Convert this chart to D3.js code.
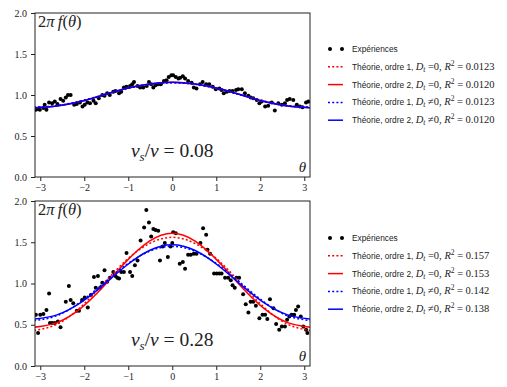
<!DOCTYPE html>
<html>
<head>
<meta charset="utf-8">
<script src="https://cdn.jsdelivr.net/npm/d3@7"></script>
<style>
  body { margin: 0; background: #fff; }
  .tick text { font-family: "Liberation Serif", serif; font-size: 10px; fill: #222; }
  .tick line { stroke: #222; }
</style>
</head>
<body>
<script>
// measured points (theta, 2*pi*f)
var topTheta = [-3.10,-3.07,-3.01,-2.93,-2.90,-2.86,-2.80,-2.73,-2.67,-2.61,-2.54,-2.48,-2.42,-2.37,-2.31,-2.23,-2.17,-2.10,-2.04,-1.99,-1.93,-1.87,-1.79,-1.74,-1.67,-1.59,-1.54,-1.48,-1.42,-1.34,-1.29,-1.21,-1.16,-1.10,-1.04,-0.96,-0.91,-0.87,-0.79,-0.73,-0.66,-0.58,-0.53,-0.48,-0.43,-0.38,-0.32,-0.26,-0.19,-0.13,-0.08,-0.02,
  0.02,0.08,0.14,0.18,0.24,0.29,0.36,0.44,0.49,0.55,0.63,0.69,0.77,0.84,0.92,0.99,1.07,1.12,1.17,1.24,1.30,1.37,1.45,1.50,1.58,1.65,1.73,1.78,1.84,1.92,1.98,2.03,2.11,2.18,2.26,2.33,2.41,2.49,2.56,2.61,2.67,2.75,2.83,2.90,2.96,3.04,3.09];
var topValues = [0.82,0.83,0.82,0.84,0.88,0.82,0.91,0.90,0.92,0.89,0.95,0.93,0.97,1.00,1.00,0.88,0.89,0.91,0.86,0.88,0.91,0.90,0.93,0.90,0.96,1.00,0.99,1.02,1.00,1.04,1.05,1.02,1.04,1.09,1.10,1.11,1.13,1.16,1.11,1.09,1.09,1.11,1.16,1.13,1.09,1.12,1.13,1.13,1.17,1.18,1.22,1.24,
  1.24,1.22,1.20,1.21,1.23,1.20,1.17,1.15,1.09,1.08,1.13,1.16,1.13,1.13,1.10,1.07,1.08,1.06,1.02,1.04,1.05,1.05,1.06,1.07,1.07,1.02,0.99,0.97,0.96,0.94,0.90,0.92,0.86,0.87,0.91,0.81,0.90,0.88,0.90,0.94,0.95,0.94,0.88,0.86,0.85,0.91,0.92];

var botTheta = [-3.10,-3.05,-3.00,-2.93,-2.86,-2.80,-2.78,-2.73,-2.67,-2.60,-2.54,-2.42,-2.35,-2.31,-2.25,-2.17,-2.12,-2.05,-1.99,-1.92,-1.85,-1.78,-1.74,-1.69,-1.64,-1.59,-1.54,-1.48,-1.42,-1.34,-1.29,-1.25,-1.21,-1.16,-1.10,-1.04,-0.96,-0.91,-0.85,-0.79,-0.72,-0.64,-0.59,-0.53,-0.48,-0.43,-0.38,-0.32,-0.28,-0.22,-0.17,-0.10,-0.04,0.00,
  0.02,0.08,0.17,0.24,0.29,0.36,0.42,0.49,0.55,0.64,0.70,0.77,0.80,0.86,0.95,1.01,1.07,1.12,1.20,1.27,1.33,1.37,1.42,1.46,1.52,1.61,1.67,1.73,1.78,1.84,1.90,1.98,2.05,2.11,2.16,2.22,2.30,2.36,2.43,2.49,2.56,2.61,2.66,2.71,2.77,2.81,2.86,2.92,2.98,3.04,3.07];
var botValues = [0.62,0.40,0.62,0.63,0.68,0.88,0.52,0.52,0.52,0.54,0.47,0.78,0.97,0.80,0.76,0.67,0.67,0.80,0.83,0.71,0.86,1.08,0.95,1.09,0.95,1.01,1.16,1.02,1.07,1.14,1.09,1.07,1.06,1.14,1.14,1.37,1.14,1.09,1.22,1.28,1.52,1.68,1.89,1.74,1.57,1.66,1.65,1.64,1.28,1.45,1.49,1.32,1.45,1.49,
  1.62,1.61,1.24,1.26,1.18,1.35,1.35,1.36,1.36,1.49,1.67,1.59,1.41,1.36,1.12,1.12,1.12,1.12,1.07,1.07,1.04,0.98,0.95,1.07,1.07,0.87,0.75,0.65,0.78,0.78,0.73,0.58,0.62,0.62,0.57,0.81,0.70,0.51,0.44,0.48,0.48,0.56,0.60,0.62,0.62,0.68,0.72,0.60,0.48,0.44,0.40];

// theory curves sampled on a theta grid
var curveTheta = [-3.14,-2.62,-2.09,-1.57,-1.05,-0.52,0,0.52,1.05,1.57,2.09,2.62,3.14];
var topRed1  = [0.85,0.87,0.925,1.0,1.075,1.13,1.15,1.13,1.075,1.0,0.925,0.87,0.85];
var topRed2  = [0.845,0.866,0.92,1.0,1.08,1.134,1.155,1.134,1.08,1.0,0.92,0.866,0.845];
var topBlue1 = [0.85,0.87,0.925,1.0,1.075,1.13,1.15,1.13,1.075,1.0,0.925,0.87,0.85];
var topBlue2 = [0.845,0.866,0.92,1.0,1.08,1.134,1.155,1.134,1.08,1.0,0.92,0.866,0.845];
var botRed1  = [0.43,0.506,0.71,0.995,1.28,1.484,1.56,1.484,1.28,0.995,0.71,0.506,0.43];
var botRed2  = [0.47,0.526,0.695,0.96,1.265,1.514,1.61,1.514,1.265,0.96,0.695,0.526,0.47];
var botBlue1 = [0.55,0.61,0.775,1.0,1.225,1.39,1.45,1.39,1.225,1.0,0.775,0.61,0.55];
var botBlue2 = [0.57,0.62,0.765,0.98,1.215,1.40,1.47,1.40,1.215,0.98,0.765,0.62,0.57];

var xTicks = [-3,-2,-1,0,1,2,3];
var yTicks = [0,0.5,1,1.5,2];
var topR2 = ["0.0123","0.0120","0.0123","0.0120"];
var botR2 = ["0.157","0.153","0.142","0.138"];
var ratioLabels = ["0.08","0.28"];

var width = 507, height = 387;
var left = 35, right = 310;
var serif = "Liberation Serif, serif";
var sans = "Liberation Sans, Arial, sans-serif";

var svg = d3.select("body").append("svg")
    .attr("width", width)
    .attr("height", height);

var x = d3.scaleLinear().domain([-3.12, 3.13]).range([left, right]);

var panels = [
  {top: 13, bottom: 177, theta: topTheta, vals: topValues,
   curves: [topRed1, topRed2, topBlue1, topBlue2], r2: topR2, ratio: ratioLabels[0], legendY: 49},
  {top: 201, bottom: 366, theta: botTheta, vals: botValues,
   curves: [botRed1, botRed2, botBlue1, botBlue2], r2: botR2, ratio: ratioLabels[1], legendY: 238}
];

var styles = [
  {color: "#f00", dash: "2,2.2"},
  {color: "#f00", dash: null},
  {color: "#00f", dash: "2,2.2"},
  {color: "#00f", dash: null}
];

panels.forEach(function(p, pi) {
  var y = d3.scaleLinear().domain([0, 2]).range([p.bottom, p.top]);
  var g = svg.append("g");

  g.append("clipPath").attr("id", "clip" + pi)
    .append("rect")
    .attr("x", left).attr("y", p.top)
    .attr("width", right - left).attr("height", p.bottom - p.top);

  g.append("g")
    .attr("transform", "translate(0," + p.bottom + ")")
    .call(d3.axisBottom(x).tickValues(xTicks).tickSize(4).tickPadding(3)
      .tickFormat(function(d) { return d < 0 ? "\u2212" + Math.abs(d) : d; }))
    .call(function(a) { a.select(".domain").remove(); });

  g.append("g")
    .attr("transform", "translate(" + left + ",0)")
    .call(d3.axisLeft(y).tickValues(yTicks).tickSize(4).tickPadding(4).tickFormat(d3.format(".1f")))
    .call(function(a) { a.select(".domain").remove(); });

  var plot = g.append("g").attr("clip-path", "url(#clip" + pi + ")");

  var line = d3.line()
    .x(function(d) { return x(d[0]); })
    .y(function(d) { return y(d[1]); })
    .curve(d3.curveNatural);

  plot.selectAll("circle")
    .data(d3.zip(p.theta, p.vals))
    .enter().append("circle")
    .attr("cx", function(d) { return x(d[0]); })
    .attr("cy", function(d) { return y(d[1]); })
    .attr("r", 2)
    .attr("fill", "#000");

  p.curves.forEach(function(c, i) {
    plot.append("path")
      .datum(d3.zip(curveTheta, c))
      .attr("d", line)
      .attr("fill", "none")
      .attr("stroke", styles[i].color)
      .attr("stroke-width", 1.5)
      .attr("stroke-dasharray", styles[i].dash);
  });

  g.append("rect")
    .attr("x", left).attr("y", p.top)
    .attr("width", right - left).attr("height", p.bottom - p.top)
    .attr("fill", "none").attr("stroke", "#222").attr("stroke-width", 1);

  // labels inside the axes
  var lab = g.append("text")
    .attr("x", left + 3).attr("y", p.top + 14)
    .attr("font-family", serif).attr("font-size", 16.5).attr("fill", "#222");
  lab.append("tspan").text("2");
  lab.append("tspan").attr("font-style", "italic").text("\u03c0\u2009f");
  lab.append("tspan").text("(");
  lab.append("tspan").attr("font-style", "italic").text("\u03b8");
  lab.append("tspan").text(")");

  var rt = g.append("text")
    .attr("x", x(0)).attr("y", p.bottom - 20)
    .attr("text-anchor", "middle")
    .attr("font-family", serif).attr("font-size", 19.5).attr("fill", "#222");
  rt.append("tspan").attr("font-style", "italic").text("v");
  rt.append("tspan").attr("font-style", "italic").attr("font-size", 13).attr("dy", 4).text("s");
  rt.append("tspan").attr("dy", -4).text("/");
  rt.append("tspan").attr("font-style", "italic").text("v");
  rt.append("tspan").text(" = " + p.ratio);

  g.append("text")
    .attr("x", right - 4).attr("y", p.bottom - 5)
    .attr("text-anchor", "end")
    .attr("font-family", serif).attr("font-style", "italic")
    .attr("font-size", 15).attr("fill", "#222")
    .text("\u03b8");

  // legend
  var lg = svg.append("g").attr("transform", "translate(328," + p.legendY + ")");
  var step = 17.8;
  lg.append("circle").attr("cx", 2).attr("cy", 0).attr("r", 2);
  lg.append("circle").attr("cx", 14).attr("cy", 0).attr("r", 2);
  lg.append("text").attr("x", 24).attr("y", 3)
    .attr("font-family", sans).attr("font-size", 8.3).attr("fill", "#222")
    .text("Exp\u00e9riences");

  styles.forEach(function(s, i) {
    var yy = (i + 1) * step;
    lg.append("line")
      .attr("x1", 0).attr("x2", 15).attr("y1", yy).attr("y2", yy)
      .attr("stroke", s.color).attr("stroke-width", 1.5)
      .attr("stroke-dasharray", s.dash);
    var t = lg.append("text").attr("x", 24).attr("y", yy + 3)
      .attr("font-size", 8.3).attr("fill", "#222");
    t.append("tspan").attr("font-family", sans)
      .text("Th\u00e9orie, ordre " + (i % 2 + 1) + ", ");
    t.append("tspan").attr("font-family", serif).attr("font-style", "italic")
      .attr("font-size", 10.5).text("D");
    t.append("tspan").attr("font-family", serif).attr("font-style", "italic")
      .attr("font-size", 7.5).attr("dy", 2).text("t");
    t.append("tspan").attr("font-family", serif).attr("font-size", 10.5)
      .attr("dy", -2).text(" " + (i < 2 ? "=" : "\u2260") + "0, ");
    t.append("tspan").attr("font-family", serif).attr("font-style", "italic")
      .attr("font-size", 10.5).text("R");
    t.append("tspan").attr("font-family", serif)
      .attr("font-size", 7.5).attr("dy", -4).text("2");
    t.append("tspan").attr("font-family", serif).attr("font-size", 10.5)
      .attr("dy", 4).text(" = " + p.r2[i]);
  });
});
</script>
</body>
</html>
